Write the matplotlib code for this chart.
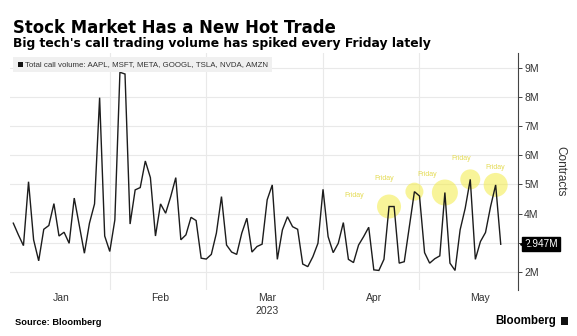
import numpy as np
import pandas as pd
import matplotlib
matplotlib.use("Agg")
import matplotlib.pyplot as plt
from matplotlib.patches import Rectangle
from matplotlib.transforms import offset_copy

# Total daily call volume for AAPL, MSFT, META, GOOGL, TSLA, NVDA, AMZN (millions of contracts)
jan_volume = [3.67, 3.27, 2.90, 5.09, 3.10, 2.38, 3.46, 3.59, 4.34, 3.23,
              3.36, 2.98, 4.53, 3.59, 2.64, 3.67, 4.33, 7.97, 3.23, 2.70]
feb_volume = [3.78, 8.84, 8.78, 3.64, 4.81, 4.89, 5.80, 5.23, 3.23, 4.33,
              4.01, 4.58, 5.23, 3.10, 3.27, 3.87, 3.76, 2.47, 2.44]
mar_volume = [2.60, 3.33, 4.58, 2.92, 2.68, 2.60, 3.33, 3.84, 2.68, 2.87,
              2.95, 4.47, 4.98, 2.43, 3.44, 3.89, 3.55, 3.46, 2.27, 2.18,
              2.52, 2.98, 4.83]
apr_volume = [3.21, 2.66, 2.98, 3.69, 2.43, 2.32, 2.92, 3.21, 3.53, 2.07,
              2.05, 2.43, 4.24, 4.24, 2.30, 2.35, 3.55, 4.75, 4.60]
may_volume = [2.66, 2.30, 2.45, 2.55, 4.72, 2.30, 2.05, 3.44, 4.18, 5.17,
              2.43, 3.04, 3.35, 4.24, 4.98, 2.947]

month_labels = ["Jan", "Feb", "Mar", "Apr", "May"]
year_label = "2023"
market_holidays = ["2023-01-16", "2023-02-20", "2023-04-07"]
highlight_dates = ["2023-04-20", "2023-04-27", "2023-05-05", "2023-05-12", "2023-05-19"]
y_ticks = [2, 3, 4, 5, 6, 7, 8, 9]

volume = np.array(jan_volume + feb_volume + mar_volume + apr_volume + may_volume)

# trading calendar, x axis runs on trading-day index
all_days = pd.bdate_range("2023-01-03", "2023-05-31")
all_days = all_days[~all_days.isin(pd.to_datetime(market_holidays))]
x = np.arange(len(volume))
day_index = {d: i for i, d in enumerate(all_days)}

W, H = 577, 336
plt.rcParams["font.family"] = ["Liberation Sans", "DejaVu Sans"]
fig = plt.figure(figsize=(W / 100, H / 100), dpi=100)
fig.patch.set_facecolor("white")

left, right, top, bottom = 10, 518, 53, 290
ax = fig.add_axes([left / W, 1 - bottom / H, (right - left) / W, (bottom - top) / H])
ax.set_xlim(-0.65, 99.4)
ax.set_ylim(1.38, 9.5)

grid_c = "#e9e9e9"
for yt in y_ticks:
    ax.axhline(yt, color=grid_c, lw=0.8, zorder=0)

# month boundaries and month label centres
months = all_days.month
month_ends, month_centres = [], []
for m in sorted(set(months)):
    idx = np.where(months == m)[0]
    month_ends.append(idx[-1])
    month_centres.append(idx.mean())
for me in month_ends[:-1]:
    ax.axvline(me, color=grid_c, lw=0.8, zorder=0)

# highlighted Friday spikes
hl_idx = [day_index[pd.Timestamp(d)] for d in highlight_dates]
hl_radius_px = [12, 9, 13, 10, 12]
hl_sizes = [(2 * r * 0.72) ** 2 for r in hl_radius_px]
ax.scatter(hl_idx, volume[hl_idx], s=hl_sizes, color="#f3ec45", alpha=0.55,
           edgecolors="none", zorder=1)
label_offsets = [(-35, 11), (-30, 13), (-18, 18), (-9, 21), (0, 17)]
for i, (dx, dy) in zip(hl_idx, label_offsets):
    ax.annotate("Friday", (i, volume[i]), xytext=(dx, dy), textcoords="offset pixels",
                ha="center", va="center", fontsize=5, color="#e4db52", zorder=2)

ax.plot(x, volume, color="#1c1c1c", lw=1.0, zorder=3, solid_joinstyle="miter")

# axes styling
for s in ["left", "top", "bottom"]:
    ax.spines[s].set_visible(False)
ax.spines["right"].set_color("#444444")
ax.spines["right"].set_linewidth(0.8)
ax.yaxis.tick_right()
ax.set_yticks(y_ticks)
last = volume[-1]
# the last-value tag sits over the nearest tick label
ax.set_yticklabels(["" if abs(v - last) < 0.3 else f"{v}M" for v in y_ticks])
ax.tick_params(axis="y", direction="out", length=3, width=0.7, color="#444444",
               labelsize=7.5, labelcolor="#333333", pad=1.5)
ax.yaxis.set_label_position("right")
ax.set_ylabel("Contracts", rotation=-90, fontsize=8.5, color="#333333", labelpad=20)

ax.set_xticks(month_centres)
ax.set_xticklabels(month_labels)
ax.tick_params(axis="x", length=0, labelsize=7.5, labelcolor="#333333", pad=2)
ax.text(month_centres[2], -0.068, year_label, transform=ax.get_xaxis_transform(),
        ha="center", va="top", fontsize=7.5, color="#333333")

# last value tag
tag_tr = offset_copy(ax.get_yaxis_transform(), fig=fig, x=6, y=0, units="dots")
ax.text(1, last, f"{last:.3f}M", transform=tag_tr, ha="left", va="center",
        fontsize=7.2, color="white", clip_on=False, zorder=5,
        bbox=dict(boxstyle="square,pad=0.2", fc="black", ec="black"))
arrow_tr = offset_copy(ax.get_yaxis_transform(), fig=fig, x=4.5, y=0, units="dots")
ax.plot([1], [last], marker="<", ms=5, color="black", transform=arrow_tr,
        clip_on=False, zorder=5)

# titles
fig.text(13 / W, 1 - 32.6 / H, "Stock Market Has a New Hot Trade", fontsize=11.9,
         fontweight="bold", family="DejaVu Sans", color="black",
         va="baseline", ha="left")
fig.text(13 / W, 1 - 47.2 / H,
         "Big tech's call trading volume has spiked every Friday lately",
         fontsize=8.9, fontweight="bold", family="DejaVu Sans", color="black",
         va="baseline", ha="left")

# series key
fig.patches.append(Rectangle((13 / W, 1 - 71.7 / H), (272 - 13) / W, (71.7 - 56.7) / H,
                             transform=fig.transFigure, fc="#f0f0f0", ec="none"))
fig.patches.append(Rectangle((18 / W, 1 - 66.5 / H), 5 / W, 5 / H,
                             transform=fig.transFigure, fc="#111111", ec="none"))
fig.text(25 / W, 1 - 66.5 / H, "Total call volume: AAPL, MSFT, META, GOOGL, TSLA, NVDA, AMZN",
         fontsize=5.7, color="#333333", va="baseline", ha="left")

# footer
fig.text(15 / W, 1 - 322.7 / H, "Source: Bloomberg", fontsize=6.7, fontweight="bold",
         color="black", va="center", ha="left")
fig.text(556 / W, 1 - 321 / H, "Bloomberg", fontsize=8.3, fontweight="bold",
         color="black", va="center", ha="right")
fig.patches.append(Rectangle((561 / W, 1 - 325 / H), 7 / W, 8 / H,
                             transform=fig.transFigure, fc="#111111", ec="none"))

fig.savefig("out.png", dpi=100)
